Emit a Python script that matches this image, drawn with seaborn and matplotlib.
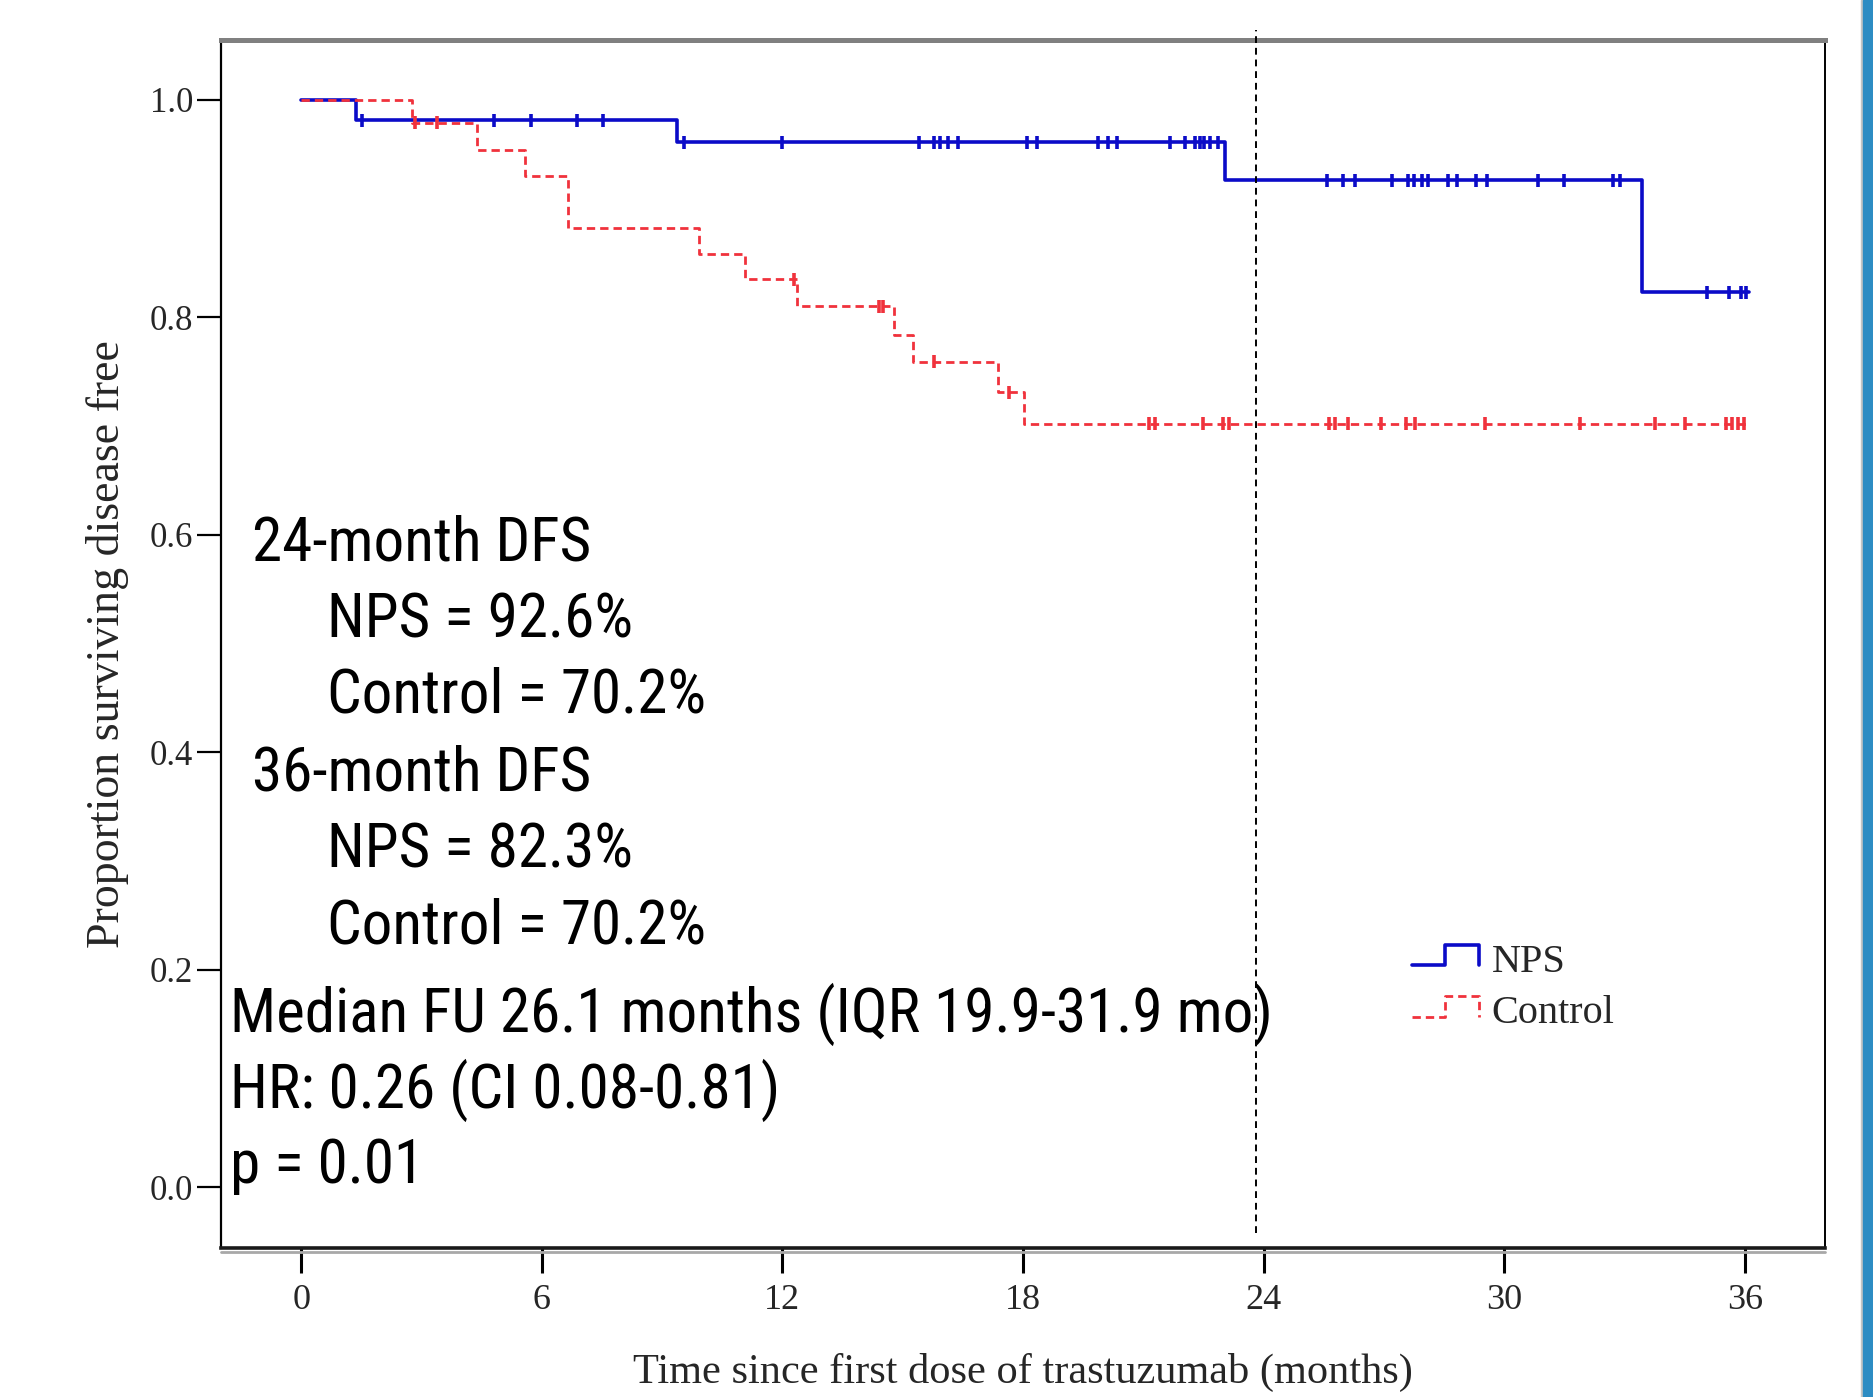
import numpy as np
import pandas as pd
import matplotlib
matplotlib.use("Agg")
import matplotlib.pyplot as plt
import seaborn as sns
from matplotlib.lines import Line2D
from matplotlib.patches import Rectangle
from matplotlib.legend_handler import HandlerBase

# ---------------- data ----------------
nps_time = [0.0, 1.37, 9.37, 23.03, 33.44, 36.1]
nps_surv = [1.0, 0.981, 0.961, 0.926, 0.823, 0.823]

ctrl_time = [0.0, 2.77, 4.38, 5.58, 6.66, 9.91, 11.06, 12.36, 14.79, 15.25,
             17.37, 18.03, 36.1]
ctrl_surv = [1.0, 0.979, 0.954, 0.930, 0.882, 0.858, 0.835, 0.810, 0.784,
             0.759, 0.731, 0.702, 0.702]

nps_censor = [1.51, 4.81, 5.73, 6.87, 7.53,
              9.55, 12.0, 15.40, 15.79, 15.94, 16.14, 16.37, 18.11, 18.34,
              19.86, 20.12, 20.35, 21.67, 22.05, 22.29, 22.41, 22.52, 22.67,
              22.86,
              25.57, 25.97, 26.28, 27.21, 27.60, 27.75, 27.94, 28.09, 28.60,
              28.83, 29.30, 29.56, 30.83, 31.49, 32.70, 32.89,
              35.06, 35.60, 35.91, 36.02]
ctrl_censor = [2.84, 3.38, 12.28, 14.40, 14.51, 15.79, 17.65,
               21.13, 21.28, 22.49, 22.99, 23.14, 25.62, 25.77, 26.11, 26.93,
               27.55, 27.78, 29.53, 31.88, 33.77, 34.51, 35.52, 35.68, 35.83,
               35.99]

groups = ["NPS", "Control"]
x_ticks = [0, 6, 12, 18, 24, 30, 36]
y_ticks = [0.0, 0.2, 0.4, 0.6, 0.8, 1.0]
y_tick_labels = ["0.0", "0.2", "0.4", "0.6", "0.8", "1.0"]
ref_month = 23.8

annotations = [
    ("24-month DFS", -1.22, 0.576),
    ("NPS = 92.6%", 0.65, 0.505),
    ("Control = 70.2%", 0.65, 0.436),
    ("36-month DFS", -1.22, 0.365),
    ("NPS = 82.3%", 0.65, 0.294),
    ("Control = 70.2%", 0.65, 0.224),
    ("Median FU 26.1 months (IQR 19.9-31.9 mo)", -1.78, 0.143),
    ("HR: 0.26 (CI 0.08-0.81)", -1.78, 0.073),
    ("p = 0.01", -1.78, 0.004),
]

# ---------------- tables ----------------
def step_value(times, surv, t):
    idx = np.searchsorted(np.asarray(times), t, side="right") - 1
    return np.asarray(surv)[idx]

curve_df = pd.concat([
    pd.DataFrame({"time": nps_time, "surv": nps_surv, "group": "NPS"}),
    pd.DataFrame({"time": ctrl_time, "surv": ctrl_surv, "group": "Control"}),
], ignore_index=True)

cens_df = pd.concat([
    pd.DataFrame({"time": nps_censor,
                  "surv": step_value(nps_time, nps_surv, nps_censor),
                  "group": "NPS"}),
    pd.DataFrame({"time": ctrl_censor,
                  "surv": step_value(ctrl_time, ctrl_surv, ctrl_censor),
                  "group": "Control"}),
], ignore_index=True)

# ---------------- style ----------------
sns.set_theme(style="white")
plt.rcParams["font.family"] = ["Liberation Serif", "DejaVu Serif"]
SANS_NARROW = ["Roboto Condensed", "Liberation Sans", "DejaVu Sans"]

BLUE = "#0b0bc8"
RED = "#f0323c"
palette = {"NPS": BLUE, "Control": RED}
dash_map = {"NPS": "", "Control": (3.0, 1.8)}
lw_map = {"NPS": 2.6, "Control": 2.0}

fig = plt.figure(figsize=(18.73, 13.97), dpi=100)
fig.patch.set_facecolor("white")
ax = fig.add_axes([0.118, 0.1067, 0.8564, 0.8647])

for g in groups:
    sub = curve_df[curve_df["group"] == g]
    sns.lineplot(data=sub, x="time", y="surv", color=palette[g],
                 dashes=False, estimator=None, sort=False,
                 drawstyle="steps-post", linewidth=lw_map[g],
                 linestyle="-" if g == "NPS" else (0, dash_map[g]),
                 legend=False, ax=ax)

sns.scatterplot(data=cens_df, x="time", y="surv", hue="group",
                palette=palette, marker="|", s=85, linewidth=2.6,
                legend=False, ax=ax, zorder=3)

ax.axvline(ref_month, ymin=0.0124, ymax=1.008, color="black", lw=1.4,
           dashes=(3.5, 2.5), clip_on=False, zorder=4)

ax.set_xlim(-2.0, 38.0)
ax.set_ylim(-0.056, 1.055)
ax.set_xticks(x_ticks)
ax.set_xticklabels([str(v) for v in x_ticks])
ax.set_yticks(y_ticks)
ax.set_yticklabels(y_tick_labels)
ax.tick_params(axis="x", length=18, width=2.2, pad=8, labelsize=26,
               direction="out", color="black", bottom=True)
ax.tick_params(axis="y", length=17, width=1.6, pad=3, labelsize=25,
               direction="out", color="black", left=True)

for side in ["left", "right", "bottom", "top"]:
    ax.spines[side].set_visible(True)
ax.spines["left"].set_color("black")
ax.spines["left"].set_linewidth(1.6)
ax.spines["right"].set_color("black")
ax.spines["right"].set_linewidth(1.4)
ax.spines["bottom"].set_color("#1a1a1a")
ax.spines["bottom"].set_linewidth(2.6)
ax.spines["top"].set_color("#808080")
ax.spines["top"].set_linewidth(3.6)
ax.grid(False)

# soft grey shadow under the bottom frame line (as in the reference)
ax.plot([0, 1], [-0.0035, -0.0035], transform=ax.transAxes, color="#a8a8a8",
        lw=2.0, clip_on=False, zorder=1)

ax.set_xlabel("Time since first dose of trastuzumab (months)", fontsize=30.5,
              va="top")
ax.xaxis.set_label_coords(0.5, -0.087)
ax.set_ylabel("Proportion surviving disease free", fontsize=33, va="center")
ax.yaxis.set_label_coords(-0.071, 0.5)

for txt, xx, yy in annotations:
    ax.text(xx, yy, txt, fontsize=44, va="baseline", ha="left",
            family=SANS_NARROW, color="black", zorder=5)

# ---------------- legend with step-shaped keys ----------------
class StepHandler(HandlerBase):
    def create_artists(self, legend, orig_handle, xdescent, ydescent,
                       width, height, fontsize, trans):
        x0 = -xdescent
        yl = -ydescent + 0.2 * height
        yh = -ydescent + 1.0 * height
        xs = [x0, x0 + width / 2, x0 + width / 2, x0 + width, x0 + width]
        ys = [yl, yl, yh, yh, yl]
        line = Line2D(xs, ys)
        line.update_from(orig_handle)
        line.set_data(xs, ys)
        line.set_transform(trans)
        return [line]

handles = [
    Line2D([], [], color=BLUE, lw=lw_map["NPS"], linestyle="-"),
    Line2D([], [], color=RED, lw=lw_map["Control"],
           linestyle=(0, dash_map["Control"])),
]
leg = ax.legend(handles, groups, handler_map={Line2D: StepHandler()},
                loc="upper left", bbox_to_anchor=(0.7425, 0.252),
                frameon=False, prop={"family": "Liberation Serif", "size": 29},
                handlelength=1.66, handletextpad=0.32, labelspacing=0.36,
                borderaxespad=0, borderpad=0, handleheight=0.6)

# ---------------- slide edge on the right ----------------
fig.patches.append(Rectangle((1861 / 1873, 0), 2 / 1873, 1,
                             transform=fig.transFigure, color="#c4c4c4",
                             zorder=0))
fig.patches.append(Rectangle((1863 / 1873, 0), 10 / 1873, 1,
                             transform=fig.transFigure, color="#2d8cc3",
                             zorder=0))

fig.savefig("out.png", dpi=100, facecolor="white")
